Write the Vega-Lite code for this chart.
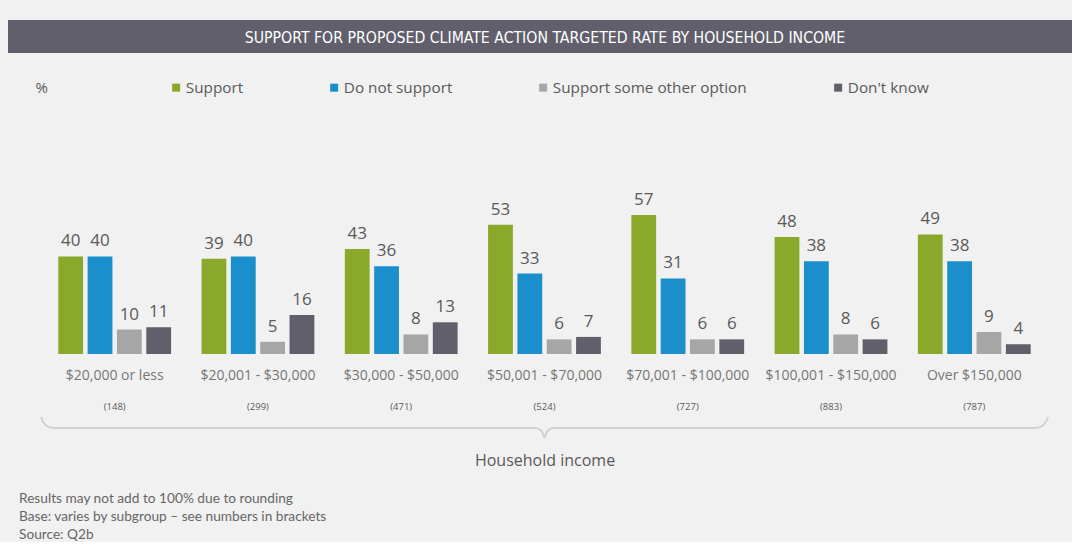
{
  "$schema": "https://vega.github.io/schema/vega-lite/v6.json",
  "background": "#f1f1f1",
  "padding": {"left": 8, "top": 20, "right": 0, "bottom": 0},
  "spacing": 0,
  "config": {
    "view": {"stroke": null},
    "font": "Open Sans"
  },
  "datasets": {
    "bars": [
      {"income": "$20,000 or less", "response": "Support", "pct": 40},
      {"income": "$20,000 or less", "response": "Do not support", "pct": 40},
      {"income": "$20,000 or less", "response": "Support some other option", "pct": 10},
      {"income": "$20,000 or less", "response": "Don't know", "pct": 11},
      {"income": "$20,001 - $30,000", "response": "Support", "pct": 39},
      {"income": "$20,001 - $30,000", "response": "Do not support", "pct": 40},
      {"income": "$20,001 - $30,000", "response": "Support some other option", "pct": 5},
      {"income": "$20,001 - $30,000", "response": "Don't know", "pct": 16},
      {"income": "$30,000 - $50,000", "response": "Support", "pct": 43},
      {"income": "$30,000 - $50,000", "response": "Do not support", "pct": 36},
      {"income": "$30,000 - $50,000", "response": "Support some other option", "pct": 8},
      {"income": "$30,000 - $50,000", "response": "Don't know", "pct": 13},
      {"income": "$50,001 - $70,000", "response": "Support", "pct": 53},
      {"income": "$50,001 - $70,000", "response": "Do not support", "pct": 33},
      {"income": "$50,001 - $70,000", "response": "Support some other option", "pct": 6},
      {"income": "$50,001 - $70,000", "response": "Don't know", "pct": 7},
      {"income": "$70,001 - $100,000", "response": "Support", "pct": 57},
      {"income": "$70,001 - $100,000", "response": "Do not support", "pct": 31},
      {"income": "$70,001 - $100,000", "response": "Support some other option", "pct": 6},
      {"income": "$70,001 - $100,000", "response": "Don't know", "pct": 6},
      {"income": "$100,001 - $150,000", "response": "Support", "pct": 48},
      {"income": "$100,001 - $150,000", "response": "Do not support", "pct": 38},
      {"income": "$100,001 - $150,000", "response": "Support some other option", "pct": 8},
      {"income": "$100,001 - $150,000", "response": "Don't know", "pct": 6},
      {"income": "Over $150,000", "response": "Support", "pct": 49},
      {"income": "Over $150,000", "response": "Do not support", "pct": 38},
      {"income": "Over $150,000", "response": "Support some other option", "pct": 9},
      {"income": "Over $150,000", "response": "Don't know", "pct": 4}
    ],
    "bases": [
      {"income": "$20,000 or less", "base": "(148)"},
      {"income": "$20,001 - $30,000", "base": "(299)"},
      {"income": "$30,000 - $50,000", "base": "(471)"},
      {"income": "$50,001 - $70,000", "base": "(524)"},
      {"income": "$70,001 - $100,000", "base": "(727)"},
      {"income": "$100,001 - $150,000", "base": "(883)"},
      {"income": "Over $150,000", "base": "(787)"}
    ]
  },
  "vconcat": [
    {
      "width": 1064,
      "height": 33,
      "view": {"fill": "#605f6b", "stroke": null},
      "data": {"values": [{"heading": "SUPPORT FOR PROPOSED CLIMATE ACTION TARGETED RATE BY HOUSEHOLD INCOME"}]},
      "mark": {"type": "text", "font": "'DejaVu Sans Condensed', 'DejaVu Sans', sans-serif", "fontSize": 15.7, "color": "#ffffff", "baseline": "middle", "dx": 5, "dy": 1},
      "encoding": {"text": {"field": "heading"}}
    },
    {
      "width": 1064,
      "height": 301,
      "data": {"name": "bars"},
      "title": {
        "text": ["Results may not add to 100% due to rounding", "Base: varies by subgroup \u2013 see numbers in brackets", "Source: Q2b"],
        "orient": "bottom",
        "anchor": "start",
        "frame": "bounds",
        "font": "Lato",
        "fontSize": 13.7,
        "fontWeight": "normal",
        "color": "#666666",
        "lineHeight": 18,
        "offset": 24,
        "dx": 11
      },
      "layer": [
        {
          "mark": {"type": "bar"},
          "encoding": {
            "x": {
              "field": "income",
              "type": "nominal",
              "scale": {
                "domain": ["$20,000 or less", "$20,001 - $30,000", "$30,000 - $50,000", "$50,001 - $70,000", "$70,001 - $100,000", "$100,001 - $150,000", "Over $150,000"],
                "paddingInner": 0.2127,
                "paddingOuter": 0.3197,
                "align": 0.549
              },
              "axis": {
                "domain": false,
                "ticks": false,
                "tickSize": 0,
                "labelAngle": 0,
                "labelPadding": 14,
                "labelFont": "Open Sans",
                "labelFontSize": 14,
                "labelColor": "#767676",
                "labelLimit": 300,
                "title": "Household income",
                "titleX": 536.5,
                "titleFont": "Open Sans",
                "titleFontSize": 16,
                "titleFontWeight": "normal",
                "titleColor": "#595959",
                "titlePadding": 70
              }
            },
            "xOffset": {
              "field": "response",
              "type": "nominal",
              "scale": {
                "domain": ["Support", "Do not support", "Support some other option", "Don't know"],
                "paddingInner": 0.1545,
                "paddingOuter": 0
              }
            },
            "y": {
              "field": "pct",
              "type": "quantitative",
              "scale": {"domain": [0, 123.4], "nice": false, "zero": true},
              "axis": null
            },
            "y2": {"datum": 0},
            "color": {
              "field": "response",
              "type": "nominal",
              "scale": {
                "domain": ["Support", "Do not support", "Support some other option", "Don't know"],
                "range": ["#8aa92a", "#1a8fcb", "#a6a6a6", "#605f6b"]
              },
              "legend": {
                "orient": "none",
                "legendX": 27.5,
                "legendY": 60,
                "direction": "horizontal",
                "title": "%",
                "titleOrient": "left",
                "titlePadding": 120,
                "titleFont": "Open Sans",
                "titleFontSize": 15,
                "titleFontWeight": "normal",
                "titleColor": "#595959",
                "symbolType": "square",
                "symbolSize": 64,
                "symbolStrokeWidth": 0,
                "labelFont": "Open Sans",
                "labelFontSize": 15.3,
                "labelColor": "#595959",
                "labelOffset": 2,
                "columnPadding": 83,
                "labelLimit": 400
              }
            }
          }
        },
        {
          "mark": {"type": "text", "font": "Open Sans", "fontSize": 17, "color": "#595959", "baseline": "alphabetic", "dy": -10},
          "encoding": {
            "x": {"field": "income", "type": "nominal"},
            "xOffset": {"field": "response", "type": "nominal"},
            "y": {"field": "pct", "type": "quantitative"},
            "text": {"field": "pct", "type": "quantitative"}
          }
        },
        {
          "data": {"name": "bases"},
          "mark": {"type": "text", "font": "Open Sans", "fontSize": 9.5, "color": "#595959", "baseline": "middle", "dy": 52.7},
          "encoding": {
            "x": {"field": "income", "type": "nominal"},
            "y": {"datum": 0},
            "text": {"field": "base"}
          }
        },
        {
          "data": {"values": [{"group": "Household income"}]},
          "mark": {
            "type": "point",
            "shape": "M -1 -0.0218 C -0.995 -0.004 -0.986 0 -0.975 0 L -0.018 0 C -0.008 0 -0.003 0.008 0 0.0199 C 0.003 0.008 0.008 0 0.018 0 L 0.975 0 C 0.986 0 0.995 -0.004 1 -0.0218",
            "size": 1014049,
            "filled": false,
            "stroke": "#d2d2d2",
            "strokeWidth": 2,
            "opacity": 1,
            "xOffset": 4.5,
            "yOffset": 74
          },
          "encoding": {
            "y": {"datum": 0}
          }
        }
      ]
    }
  ]
}
